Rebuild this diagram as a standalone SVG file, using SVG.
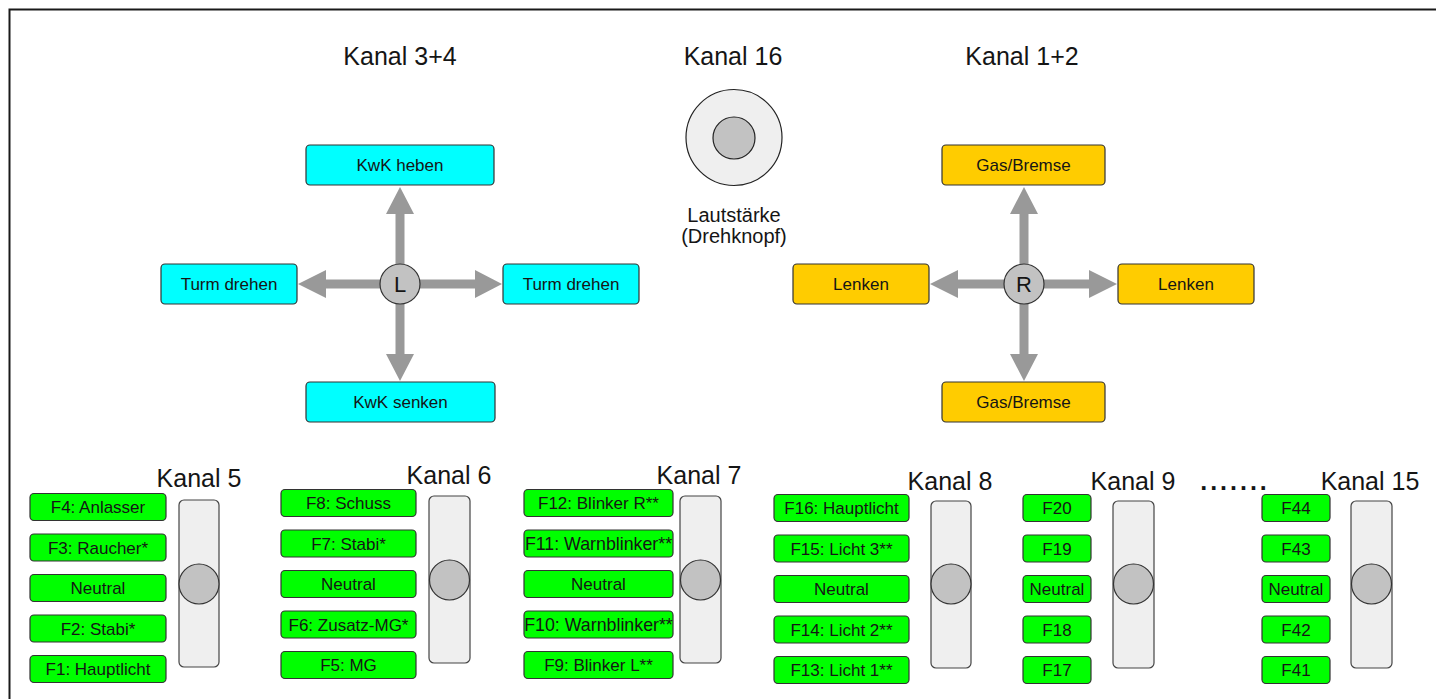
<svg xmlns="http://www.w3.org/2000/svg" width="1436" height="699" viewBox="0 0 1436 699">
<style>
text{font-family:"Liberation Sans",Arial,sans-serif;fill:#151515;text-anchor:middle}
.title{font-size:25px}
.lbl{font-size:17px}
.big{font-size:20px}
.cy{fill:#00ffff;stroke:#333;stroke-width:1.2}
.ye{fill:#ffcc00;stroke:#333;stroke-width:1.2}
.gr{fill:#00ff00;stroke:#333;stroke-width:1.2}
.track{fill:#efefef;stroke:#444;stroke-width:1.2}
.knob{fill:#c2c2c2;stroke:#333;stroke-width:1.2}
.arr{fill:#999999}
</style>
<rect x="0" y="0" width="1436" height="699" fill="#ffffff"/>
<path d="M9.5,699 V9.5 H1436" fill="none" stroke="#1a1a1a" stroke-width="2"/>

<g id="titles">
<text class="title" x="400" y="65">Kanal 3+4</text>
<text class="title" x="733" y="65">Kanal 16</text>
<text class="title" x="1022" y="65">Kanal 1+2</text>
</g>

<g id="connectors">
<polygon class="arr" points="395.5,284 395.5,214 386,214 400,187 414,214 404.5,214 404.5,284"/>
<polygon class="arr" points="395.5,284 395.5,354 386,354 400,381 414,354 404.5,354 404.5,284"/>
<polygon class="arr" points="400,279.5 326,279.5 326,270 298,284 326,298 326,288.5 400,288.5"/>
<polygon class="arr" points="400,279.5 475,279.5 475,270 502,284 475,298 475,288.5 400,288.5"/>
<polygon class="arr" points="1019.5,284 1019.5,214 1010,214 1024,187 1038,214 1028.5,214 1028.5,284"/>
<polygon class="arr" points="1019.5,284 1019.5,354 1010,354 1024,381 1038,354 1028.5,354 1028.5,284"/>
<polygon class="arr" points="1024,279.5 958,279.5 958,270 930,284 958,298 958,288.5 1024,288.5"/>
<polygon class="arr" points="1024,279.5 1089,279.5 1089,270 1117,284 1089,298 1089,288.5 1024,288.5"/>
</g>

<g id="stick-L">
<circle class="knob" cx="400" cy="284" r="20"/>
<text x="400" y="292" style="font-size:22px">L</text>
</g>
<g id="kwk-heben"><rect class="cy" x="306" y="145" width="188" height="40" rx="4"/><text class="lbl" x="400" y="171">KwK heben</text></g>
<g id="kwk-senken"><rect class="cy" x="306" y="382" width="189" height="40" rx="4"/><text class="lbl" x="400.5" y="408">KwK senken</text></g>
<g id="turm-links"><rect class="cy" x="161" y="264" width="136" height="40" rx="4"/><text class="lbl" x="229" y="290">Turm drehen</text></g>
<g id="turm-rechts"><rect class="cy" x="503" y="264" width="136" height="40" rx="4"/><text class="lbl" x="571" y="290">Turm drehen</text></g>

<g id="stick-R">
<circle class="knob" cx="1024" cy="284" r="20"/>
<text x="1024" y="292" style="font-size:22px">R</text>
</g>
<g id="gas-oben"><rect class="ye" x="942" y="145" width="163" height="40" rx="4"/><text class="lbl" x="1023.5" y="171">Gas/Bremse</text></g>
<g id="gas-unten"><rect class="ye" x="942" y="382" width="163" height="40" rx="4"/><text class="lbl" x="1023.5" y="408">Gas/Bremse</text></g>
<g id="lenken-links"><rect class="ye" x="793" y="264" width="136" height="40" rx="4"/><text class="lbl" x="861" y="290">Lenken</text></g>
<g id="lenken-rechts"><rect class="ye" x="1118" y="264" width="136" height="40" rx="4"/><text class="lbl" x="1186" y="290">Lenken</text></g>

<g id="drehknopf">
<circle cx="734" cy="137.5" r="48" fill="#efefef" stroke="#222" stroke-width="1.2"/>
<circle cx="734" cy="138" r="21" fill="#c2c2c2" stroke="#222" stroke-width="1.2"/>
<text class="big" x="734" y="222">Lautstärke</text>
<text class="big" x="734" y="243">(Drehknopf)</text>
</g>

<g id="kanal5">
<text class="title" x="199" y="487">Kanal 5</text>
<rect class="gr" x="30" y="493.5" width="136" height="27" rx="4"/><text class="lbl" x="98" y="513">F4: Anlasser</text>
<rect class="gr" x="30" y="534" width="136" height="27" rx="4"/><text class="lbl" x="98" y="553.5">F3: Raucher*</text>
<rect class="gr" x="30" y="574.5" width="136" height="27" rx="4"/><text class="lbl" x="98" y="594">Neutral</text>
<rect class="gr" x="30" y="615" width="136" height="27" rx="4"/><text class="lbl" x="98" y="634.5">F2: Stabi*</text>
<rect class="gr" x="30" y="655.5" width="136" height="27" rx="4"/><text class="lbl" x="98" y="675">F1: Hauptlicht</text>
<rect class="track" x="179" y="500" width="40" height="167" rx="5"/>
<circle class="knob" cx="199" cy="584" r="20"/>
</g>

<g id="kanal6">
<text class="title" x="449" y="484">Kanal 6</text>
<rect class="gr" x="281" y="489.5" width="135" height="27" rx="4"/><text class="lbl" x="348.5" y="509">F8: Schuss</text>
<rect class="gr" x="281" y="530" width="135" height="27" rx="4"/><text class="lbl" x="348.5" y="549.5">F7: Stabi*</text>
<rect class="gr" x="281" y="570.5" width="135" height="27" rx="4"/><text class="lbl" x="348.5" y="590">Neutral</text>
<rect class="gr" x="281" y="611" width="135" height="27" rx="4"/><text class="lbl" x="348.5" y="630.5">F6: Zusatz-MG*</text>
<rect class="gr" x="281" y="651.5" width="135" height="27" rx="4"/><text class="lbl" x="348.5" y="671">F5: MG</text>
<rect class="track" x="429" y="496" width="41" height="167" rx="5"/>
<circle class="knob" cx="449.5" cy="580" r="20"/>
</g>

<g id="kanal7">
<text class="title" x="699" y="484">Kanal 7</text>
<rect class="gr" x="524" y="489.5" width="149" height="27" rx="4"/><text class="lbl" x="598.5" y="509">F12: Blinker R**</text>
<rect class="gr" x="524" y="530" width="149" height="27" rx="4"/><text class="lbl" x="598.5" y="549.5" style="font-size:17.8px">F11: Warnblinker**</text>
<rect class="gr" x="524" y="570.5" width="149" height="27" rx="4"/><text class="lbl" x="598.5" y="590">Neutral</text>
<rect class="gr" x="524" y="611" width="149" height="27" rx="4"/><text class="lbl" x="598.5" y="630.5" style="font-size:17.8px">F10: Warnblinker**</text>
<rect class="gr" x="524" y="651.5" width="149" height="27" rx="4"/><text class="lbl" x="598.5" y="671">F9: Blinker L**</text>
<rect class="track" x="680" y="496" width="41" height="167" rx="5"/>
<circle class="knob" cx="700.5" cy="580" r="20"/>
</g>

<g id="kanal8">
<text class="title" x="950" y="490">Kanal 8</text>
<rect class="gr" x="774" y="494.5" width="135" height="27" rx="4"/><text class="lbl" x="841.5" y="514">F16: Hauptlicht</text>
<rect class="gr" x="774" y="535" width="135" height="27" rx="4"/><text class="lbl" x="841.5" y="554.5">F15: Licht 3**</text>
<rect class="gr" x="774" y="575.5" width="135" height="27" rx="4"/><text class="lbl" x="841.5" y="595">Neutral</text>
<rect class="gr" x="774" y="616" width="135" height="27" rx="4"/><text class="lbl" x="841.5" y="635.5">F14: Licht 2**</text>
<rect class="gr" x="774" y="656.5" width="135" height="27" rx="4"/><text class="lbl" x="841.5" y="676">F13: Licht 1**</text>
<rect class="track" x="931" y="501" width="40" height="167" rx="5"/>
<circle class="knob" cx="951" cy="584" r="20"/>
</g>

<g id="kanal9">
<text class="title" x="1133" y="490">Kanal 9</text>
<rect class="gr" x="1023" y="494.5" width="68" height="27" rx="4"/><text class="lbl" x="1057" y="514">F20</text>
<rect class="gr" x="1023" y="535" width="68" height="27" rx="4"/><text class="lbl" x="1057" y="554.5">F19</text>
<rect class="gr" x="1023" y="575.5" width="68" height="27" rx="4"/><text class="lbl" x="1057" y="595">Neutral</text>
<rect class="gr" x="1023" y="616" width="68" height="27" rx="4"/><text class="lbl" x="1057" y="635.5">F18</text>
<rect class="gr" x="1023" y="656.5" width="68" height="27" rx="4"/><text class="lbl" x="1057" y="676">F17</text>
<rect class="track" x="1113" y="501" width="41" height="167" rx="5"/>
<circle class="knob" cx="1133.5" cy="584" r="20"/>
</g>

<g id="ellipsis">
<text class="title" x="1235" y="490" style="font-weight:bold;letter-spacing:3px">.......</text>
</g>

<g id="kanal15">
<text class="title" x="1370" y="490">Kanal 15</text>
<rect class="gr" x="1262" y="494.5" width="68" height="27" rx="4"/><text class="lbl" x="1296" y="514">F44</text>
<rect class="gr" x="1262" y="535" width="68" height="27" rx="4"/><text class="lbl" x="1296" y="554.5">F43</text>
<rect class="gr" x="1262" y="575.5" width="68" height="27" rx="4"/><text class="lbl" x="1296" y="595">Neutral</text>
<rect class="gr" x="1262" y="616" width="68" height="27" rx="4"/><text class="lbl" x="1296" y="635.5">F42</text>
<rect class="gr" x="1262" y="656.5" width="68" height="27" rx="4"/><text class="lbl" x="1296" y="676">F41</text>
<rect class="track" x="1351" y="501" width="41" height="167" rx="5"/>
<circle class="knob" cx="1371.5" cy="584" r="20"/>
</g>
</svg>
